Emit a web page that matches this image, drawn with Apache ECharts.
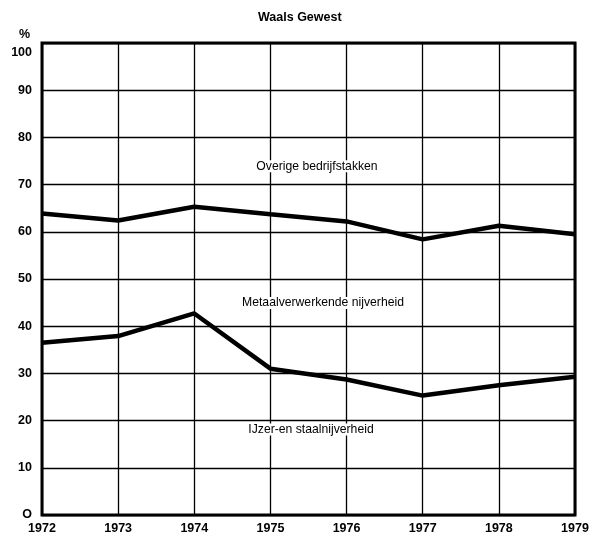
<!DOCTYPE html>
<html>
<head>
<meta charset="utf-8">
<script src="https://cdn.jsdelivr.net/npm/echarts@6/dist/echarts.min.js"></script>
<style>html,body{margin:0;padding:0;background:#fff}#c{width:594px;height:538px}</style>
</head>
<body>
<div id="c"></div>
<script>
const years = ['1972','1973','1974','1975','1976','1977','1978','1979'];
const overige = [63.9, 62.4, 65.3, 63.7, 62.2, 58.4, 61.3, 59.5];
const metaal = [36.5, 37.9, 42.7, 31.0, 28.7, 25.3, 27.5, 29.3];
const yTicks = [0,10,20,30,40,50,60,70,80,90,100];
const yTickLabels = ['O','10','20','30','40','50','60','70','80','90','100'];
const annotationTexts = ['Overige bedrijfstakken', 'Metaalverwerkende nijverheid', 'IJzer-en staalnijverheid'];
const annotationValues = [73.9, 44.9, 18.1];
const annotationX = [317, 323, 311];
const FONT = '"Liberation Sans", Arial, Helvetica, sans-serif';
const chart = echarts.init(document.getElementById('c'));
const lineStyle = {color:'#000', width:4.5};
chart.setOption({
  animation:false,
  backgroundColor:'#fff',
  title:{text:'Waals Gewest', left:253, top:6,
    textStyle:{fontFamily:FONT, fontSize:12.5, fontWeight:'bold', color:'#000'}},
  grid:{left:42, right:19, top:43, bottom:23, show:true, borderColor:'#000', borderWidth:3},
  xAxis:{type:'category', data:years, boundaryGap:false,
    axisLine:{show:false}, axisTick:{show:false},
    axisLabel:{color:'#000', fontFamily:FONT, fontSize:12.5, fontWeight:'bold', margin:7},
    splitLine:{show:true, lineStyle:{color:'#000', width:1.3}}},
  yAxis:{type:'value', min:0, max:100, interval:10,
    axisLine:{show:false}, axisTick:{show:false},
    axisLabel:{color:'#000', fontFamily:FONT, fontSize:12.5, fontWeight:'bold', margin:10,
      formatter:v=>{const s=yTickLabels[yTicks.indexOf(v)]; return v===100?'{low|'+s+'}':s;},
      rich:{low:{fontFamily:FONT, fontSize:12.5, fontWeight:'bold', color:'#000', padding:[20,0,0,0]}}},
    splitLine:{show:true, lineStyle:{color:'#000', width:1.3}}},
  series:[
    {type:'line', data:overige, symbol:'none', lineStyle:lineStyle, z:5},
    {type:'line', data:metaal, symbol:'none', lineStyle:lineStyle, z:5}
  ]
});
const g = [{type:'text', left:19, top:28, style:{text:'%', fontFamily:FONT, fontSize:12.5, fontWeight:'bold', fill:'#000'}}];
annotationTexts.forEach((t,i)=>{
  const y = chart.convertToPixel({yAxisIndex:0}, annotationValues[i]);
  g.push({type:'text', x:annotationX[i], y:y, z:10,
    style:{text:t, fontFamily:FONT, fontSize:12.2, fill:'#000', align:'center', verticalAlign:'middle',
      backgroundColor:'#fff', padding:[0,2]}});
});
chart.setOption({graphic:g});
</script>
</body>
</html>
